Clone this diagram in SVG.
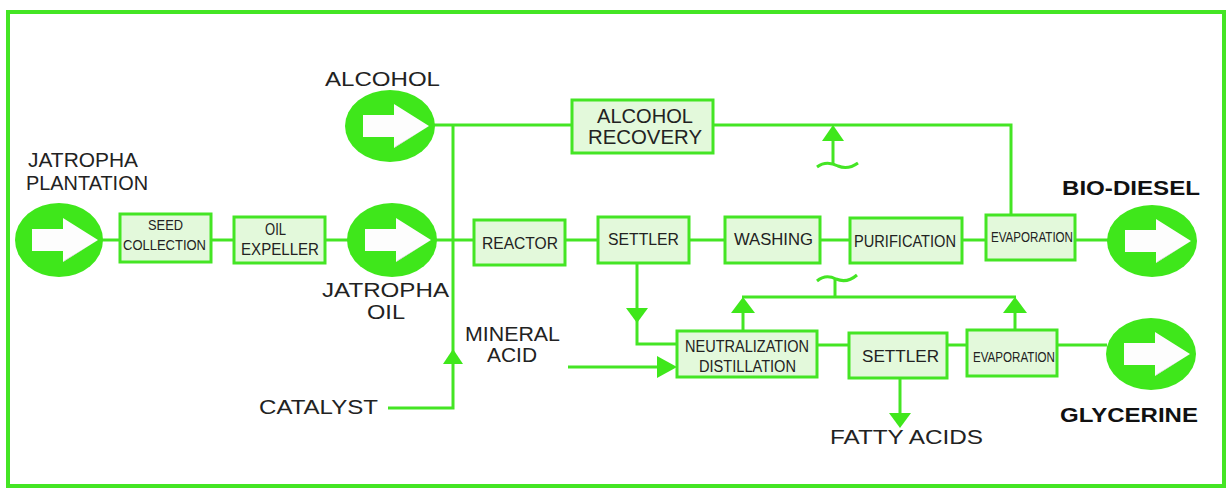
<svg xmlns="http://www.w3.org/2000/svg" width="1232" height="496" viewBox="0 0 1232 496">
<defs>
<style>
.box{fill:#e3f9db;stroke:#44e524;stroke-width:3}
.ln{fill:none;stroke:#44e524;stroke-width:3}
.circ{fill:#3fe71b}
.lbl{font-family:"Liberation Sans",Arial,sans-serif;font-size:20px;fill:#222}
.bold{font-family:"Liberation Sans",Arial,sans-serif;font-size:20px;font-weight:bold;fill:#111}
.bt{font-family:"Liberation Sans",Arial,sans-serif;font-size:16px;fill:#222}
.sm{font-size:15px}
.ah{fill:#3fe71b}
</style>
<g id="bigarrow">
<path d="M-27,-11 L4,-11 L4,-22 L39,0 L4,22 L4,11 L-27,11 Z" fill="#fdfdfd"/>
<path d="M4,22 L39,0 L36,2 L6,20 Z" fill="#c9c9c9"/>
</g>
</defs>
<rect width="1232" height="496" fill="#ffffff"/>
<rect x="8" y="12" width="1216" height="474" fill="none" stroke="#44e524" stroke-width="4"/>

<g id="connectors">
<line class="ln" x1="102" y1="240" x2="120" y2="240"/>
<line class="ln" x1="211" y1="240" x2="234" y2="240"/>
<line class="ln" x1="325" y1="240" x2="348" y2="240"/>
<line class="ln" x1="436" y1="240" x2="474" y2="240"/>
<line class="ln" x1="565" y1="240" x2="598" y2="240"/>
<line class="ln" x1="689" y1="240" x2="725" y2="240"/>
<line class="ln" x1="820" y1="240" x2="850" y2="240"/>
<line class="ln" x1="962" y1="240" x2="986" y2="240"/>
<line class="ln" x1="1075" y1="240" x2="1108" y2="240"/>
<line class="ln" x1="434" y1="125" x2="572" y2="125"/>
<polyline class="ln" points="713,125 1011,125 1011,215"/>
<polyline class="ln" points="388,408 453,408 453,125"/>
<polygon class="ah" points="453,349 443,364 463,364"/>
<line class="ln" x1="833" y1="138" x2="833" y2="165"/>
<polygon class="ah" points="833,125 822,141 844,141"/>
<path class="ln" d="M817,167 C825,161 832,163 838,166 C845,169 851,168 858,163"/>
<polyline class="ln" points="637,263 637,344 677,344"/>
<polygon class="ah" points="637,323 626,308 648,308"/>
<line class="ln" x1="568" y1="367" x2="660" y2="367"/>
<polygon class="ah" points="677,367 657,356 657,378"/>
<line class="ln" x1="817" y1="345" x2="849" y2="345"/>
<line class="ln" x1="947" y1="345" x2="967" y2="345"/>
<line class="ln" x1="1057" y1="345" x2="1107" y2="345"/>
<line class="ln" x1="743" y1="331" x2="743" y2="308"/>
<line class="ln" x1="1015" y1="330" x2="1015" y2="308"/>
<line class="ln" x1="742" y1="297" x2="1016" y2="297"/>
<polygon class="ah" points="743,297 731,313 755,313"/>
<polygon class="ah" points="1015,297 1003,313 1027,313"/>
<line class="ln" x1="835" y1="297" x2="835" y2="278"/>
<path class="ln" d="M817,281 C824,275 830,276 836,279 C843,282 850,281 857,275"/>
<line class="ln" x1="900" y1="378" x2="900" y2="414"/>
<polygon class="ah" points="900,428 889,413 911,413"/>
</g>

<g id="plantation">
<text class="lbl" x="28" y="167" textLength="110" lengthAdjust="spacingAndGlyphs">JATROPHA</text>
<text class="lbl" x="26" y="190" textLength="122" lengthAdjust="spacingAndGlyphs">PLANTATION</text>
<ellipse class="circ" cx="59" cy="240" rx="44" ry="37"/>
<use href="#bigarrow" x="59" y="240"/>
</g>
<g id="seed-collection">
<rect class="box" x="120" y="214" width="91" height="48"/>
<text class="bt sm" x="148" y="230" textLength="35" lengthAdjust="spacingAndGlyphs">SEED</text>
<text class="bt sm" x="123" y="250" textLength="83" lengthAdjust="spacingAndGlyphs">COLLECTION</text>
</g>
<g id="oil-expeller">
<rect class="box" x="234" y="217" width="91" height="46"/>
<text class="bt" x="265" y="235" textLength="21" lengthAdjust="spacingAndGlyphs">OIL</text>
<text class="bt" x="241" y="255" textLength="78" lengthAdjust="spacingAndGlyphs">EXPELLER</text>
</g>
<g id="jatropha-oil">
<ellipse class="circ" cx="392" cy="240" rx="45" ry="37"/>
<use href="#bigarrow" x="392" y="240"/>
<text class="lbl" x="322" y="297" textLength="127" lengthAdjust="spacingAndGlyphs">JATROPHA</text>
<text class="lbl" x="367" y="319" textLength="38" lengthAdjust="spacingAndGlyphs">OIL</text>
</g>
<g id="alcohol">
<text class="lbl" x="325" y="86" textLength="115" lengthAdjust="spacingAndGlyphs">ALCOHOL</text>
<ellipse class="circ" cx="390" cy="126" rx="45" ry="36"/>
<use href="#bigarrow" x="390" y="126"/>
</g>
<g id="alcohol-recovery">
<rect class="box" x="572" y="100" width="141" height="53"/>
<text class="lbl" x="597" y="123" textLength="96" lengthAdjust="spacingAndGlyphs">ALCOHOL</text>
<text class="lbl" x="588" y="144" textLength="114" lengthAdjust="spacingAndGlyphs">RECOVERY</text>
</g>
<g id="reactor">
<rect class="box" x="474" y="220" width="91" height="45"/>
<text class="bt" x="482" y="249" textLength="76" lengthAdjust="spacingAndGlyphs">REACTOR</text>
</g>
<g id="settler">
<rect class="box" x="598" y="217" width="91" height="46"/>
<text class="bt" x="608" y="245" textLength="71" lengthAdjust="spacingAndGlyphs">SETTLER</text>
</g>
<g id="washing">
<rect class="box" x="725" y="217" width="95" height="46"/>
<text class="bt" x="734" y="245" textLength="79" lengthAdjust="spacingAndGlyphs">WASHING</text>
</g>
<g id="purification">
<rect class="box" x="850" y="218" width="112" height="45"/>
<text class="bt" x="854" y="247" textLength="102" lengthAdjust="spacingAndGlyphs">PURIFICATION</text>
</g>
<g id="evaporation">
<rect class="box" x="986" y="215" width="89" height="45"/>
<text class="bt sm" x="991" y="242" textLength="82" lengthAdjust="spacingAndGlyphs">EVAPORATION</text>
</g>
<g id="bio-diesel">
<text class="bold" x="1062" y="195" textLength="138" lengthAdjust="spacingAndGlyphs">BIO-DIESEL</text>
<ellipse class="circ" cx="1152" cy="241" rx="45" ry="36"/>
<use href="#bigarrow" x="1152" y="241"/>
</g>
<g id="catalyst">
<text class="lbl" x="259" y="414" textLength="119" lengthAdjust="spacingAndGlyphs">CATALYST</text>
</g>
<g id="mineral-acid">
<text class="lbl" x="465" y="341" font-size="18" textLength="95" lengthAdjust="spacingAndGlyphs">MINERAL</text>
<text class="lbl" x="487" y="362" font-size="18" textLength="50" lengthAdjust="spacingAndGlyphs">ACID</text>
</g>
<g id="neutralization">
<rect class="box" x="677" y="331" width="140" height="46"/>
<text class="bt" x="685" y="352" textLength="124" lengthAdjust="spacingAndGlyphs">NEUTRALIZATION</text>
<text class="bt" x="699" y="372" textLength="97" lengthAdjust="spacingAndGlyphs">DISTILLATION</text>
</g>
<g id="settler2">
<rect class="box" x="849" y="333" width="98" height="45"/>
<text class="bt" x="862" y="362" textLength="77" lengthAdjust="spacingAndGlyphs">SETTLER</text>
</g>
<g id="evaporation2">
<rect class="box" x="967" y="330" width="90" height="46"/>
<text class="bt sm" x="973" y="362" textLength="82" lengthAdjust="spacingAndGlyphs">EVAPORATION</text>
</g>
<g id="glycerine">
<ellipse class="circ" cx="1151" cy="354" rx="45" ry="36"/>
<use href="#bigarrow" x="1151" y="354"/>
<text class="bold" x="1060" y="422" textLength="138" lengthAdjust="spacingAndGlyphs">GLYCERINE</text>
</g>
<g id="fatty-acids">
<text class="lbl" x="830" y="444" textLength="153" lengthAdjust="spacingAndGlyphs">FATTY ACIDS</text>
</g>
</svg>
